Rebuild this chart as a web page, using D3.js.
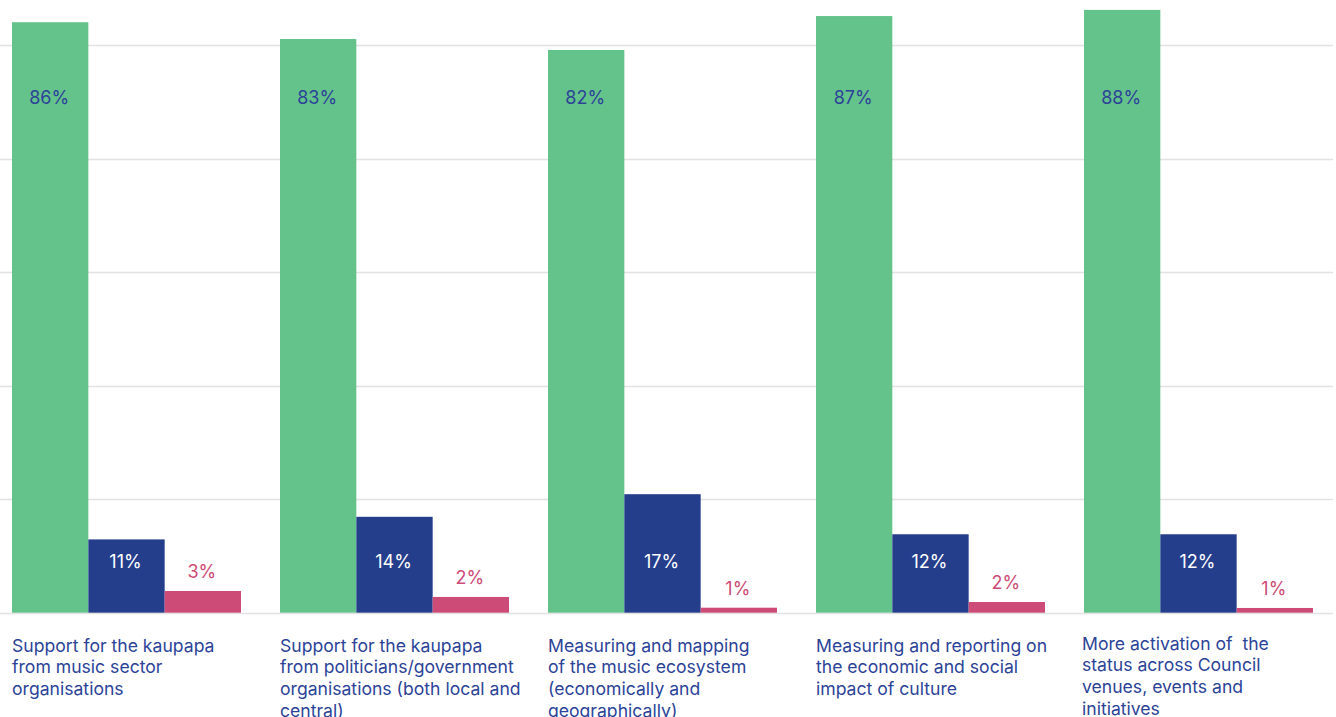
<!DOCTYPE html>
<html>
<head>
<meta charset="utf-8">
<script src="https://cdn.jsdelivr.net/npm/d3@7"></script>
<style>
  html, body { margin: 0; padding: 0; background: #ffffff; }
  svg { display: block; font-family: Inter, "Noto Sans", sans-serif; }
</style>
</head>
<body>
<svg id="chart" width="1336" height="717"></svg>
<script>
// ---- data ----
const categories = [
  ["Support for the kaupapa", "from music sector", "organisations"],
  ["Support for the kaupapa", "from politicians/government", "organisations (both local and", "central)"],
  ["Measuring and mapping", "of the music ecosystem", "(economically and", "geographically)"],
  ["Measuring and reporting on", "the economic and social", "impact of culture"],
  ["More activation of  the", "status across Council", "venues, events and", "initiatives"]
];
const seriesNames = ["green", "blue", "pink"];
// bar heights
const greenValues = [86.2, 83.75, 82.15, 87.1, 88.0];
const blueValues  = [10.7, 14.0, 17.3, 11.45, 11.45];
const pinkValues  = [3.17, 2.3, 0.73, 1.56, 0.69];
// printed labels
const greenLabels = ["86%", "83%", "82%", "87%", "88%"];
const blueLabels  = ["11%", "14%", "17%", "12%", "12%"];
const pinkLabels  = ["3%", "2%", "1%", "2%", "1%"];
// gridline values
const gridTicks = [0, 16.57, 33.14, 49.71, 66.28, 82.85];

// ---- layout ----
const colors = { green: "#64c28b", blue: "#253e8c", pink: "#cd4b77" };
const textBlue = "#2c4398";
const baseY = 612.7;
const pxPerUnit = 6.85;

const svg = d3.select("#chart");
const groupIds = d3.range(categories.length);

const x0 = d3.scaleBand().domain(groupIds).range([0, 1325])
  .paddingInner(0.1455).paddingOuter(0.0448);
const x1 = d3.scaleBand().domain(seriesNames).range([0, x0.bandwidth()]).padding(0);
const y = d3.scaleLinear().domain([0, 100]).range([baseY, baseY - 100 * pxPerUnit]);

// gridlines
svg.append("g").selectAll("line").data(gridTicks).join("line")
  .attr("x1", 0).attr("x2", 1333)
  .attr("y1", d => Math.round(y(d)) + 0.5).attr("y2", d => Math.round(y(d)) + 0.5)
  .attr("stroke", "#e2e2e2").attr("stroke-width", 1.5);

const rows = groupIds.map(i => ({
  i,
  bars: [
    { s: "green", v: greenValues[i], label: greenLabels[i] },
    { s: "blue", v: blueValues[i], label: blueLabels[i] },
    { s: "pink", v: pinkValues[i], label: pinkLabels[i] }
  ]
}));

const g = svg.append("g").selectAll("g").data(rows).join("g")
  .attr("transform", d => `translate(${x0(d.i)},0)`);

g.selectAll("rect").data(d => d.bars).join("rect")
  .attr("x", d => x1(d.s))
  .attr("width", x1.bandwidth())
  .attr("y", d => y(d.v))
  .attr("height", d => y(0) - y(d.v))
  .attr("fill", d => colors[d.s]);

g.selectAll("text.val").data(d => d.bars).join("text")
  .attr("class", "val")
  .attr("x", d => x1(d.s) + x1.bandwidth() / 2 - 1)
  .attr("y", d => d.s === "green" ? 104 : d.s === "blue" ? 568 : y(d.v) - 13)
  .attr("text-anchor", "middle")
  .attr("font-size", 18)
  .attr("fill", d => d.s === "green" ? textBlue : d.s === "blue" ? "#ffffff" : colors.pink)
  .text(d => d.label);

// category labels
const cat = svg.append("g").selectAll("text").data(groupIds).join("text")
  .attr("x", i => x0(i))
  .attr("y", i => i === 4 ? 649.5 : 651.5)
  .attr("font-size", 17.6)
  .attr("fill", textBlue);
cat.selectAll("tspan").data(i => categories[i].map((t, k) => ({ t, k, i }))).join("tspan")
  .attr("x", d => x0(d.i) - (d.i === 4 ? 2 : 0))
  .attr("dy", d => d.k === 0 ? 0 : 21.7)
  .attr("xml:space", "preserve")
  .style("white-space", "pre")
  .text(d => d.t);
</script>
</body>
</html>
